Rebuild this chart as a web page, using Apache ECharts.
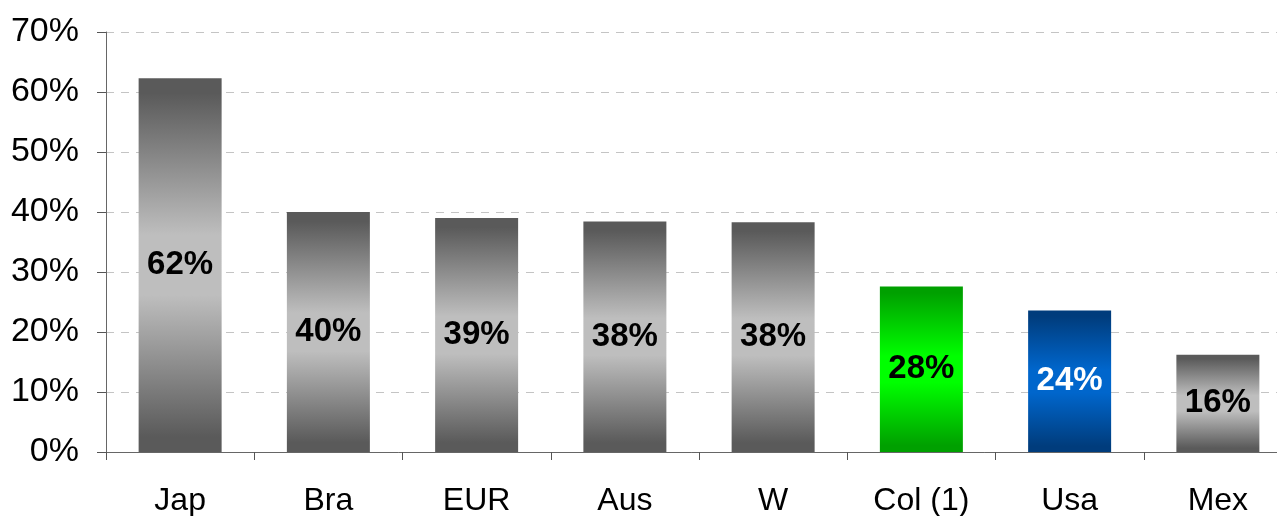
<!DOCTYPE html>
<html>
<head>
<meta charset="utf-8">
<script src="https://cdn.jsdelivr.net/npm/echarts@6/dist/echarts.min.js"></script>
<style>
  html, body { margin: 0; padding: 0; background: #fff; }
  #chart { width: 1277px; height: 516px; }
</style>
</head>
<body>
<div id="chart"></div>
<script>
// categories and values (%)
var categories = ['Jap', 'Bra', 'EUR', 'Aus', 'W', 'Col (1)', 'Usa', 'Mex'];
var values = [62.3, 40.0, 39.0, 38.4, 38.3, 27.6, 23.6, 16.2];
var yTicks = [0, 10, 20, 30, 40, 50, 60, 70];

// bar gradients: [edge, middle]
var grayBar = ['#5a5a5a', '#bebebe'];
var greenBar = ['#00a000', '#00ff00'];
var blueBar = ['#003c7c', '#0066cc'];
var barStyle = { 'Col (1)': greenBar, 'Usa': blueBar };
var labelColor = { 'Usa': '#ffffff' };

function grad(c) {
	return new echarts.graphic.LinearGradient(0, 0, 0, 1, [
		{ offset: 0, color: c[0] },
		{ offset: 0.04, color: c[0] },
		{ offset: 0.42, color: c[1] },
		{ offset: 0.58, color: c[1] },
		{ offset: 0.96, color: c[0] },
		{ offset: 1, color: c[0] }
	]);
}

var font = '"Liberation Sans", Arial, Helvetica, sans-serif';

var barData = values.map(function (v, i) {
	var name = categories[i];
	return {
		value: v,
		itemStyle: { color: grad(barStyle[name] || grayBar) },
		label: { color: labelColor[name] || '#000000' }
	};
});

var myChart = echarts.init(document.getElementById('chart'), null, { renderer: 'canvas' });
var option = {
	animation: false,
	grid: {
		left: 106,
		width: 1186,   // plot runs a little past the right edge of the picture
		top: 32,
		bottom: 64,
		containLabel: false,
		outerBoundsMode: 'none'
	},
	xAxis: {
		type: 'category',
		data: categories,
		axisLine: { lineStyle: { color: '#666666', width: 1 } },
		axisTick: { show: true, length: 8, lineStyle: { color: '#555555' } },
		axisLabel: {
			color: '#000000',
			fontSize: 32,
			fontFamily: font,
			margin: 33
		}
	},
	yAxis: {
		type: 'value',
		min: yTicks[0],
		max: yTicks[yTicks.length - 1],
		interval: 10,
		axisLine: { show: true, lineStyle: { color: '#666666', width: 1 } },
		axisTick: { show: true, length: 9, lineStyle: { color: '#555555' } },
		axisLabel: {
			color: '#000000',
			fontSize: 34,
			fontFamily: font,
			margin: 27,
			formatter: function (v) { return v + '%'; }
		},
		splitLine: {
			show: true,
			lineStyle: { color: '#c4c4c4', width: 1, type: [8, 7] }
		}
	},
	series: [{
		type: 'bar',
		data: barData,
		barWidth: 83,
		label: {
			show: true,
			position: 'inside',
			fontSize: 33,
			fontWeight: 'bold',
			fontFamily: font,
			formatter: function (p) { return Math.round(p.value) + '%'; }
		}
	}]
};
myChart.setOption(option);
</script>
</body>
</html>
